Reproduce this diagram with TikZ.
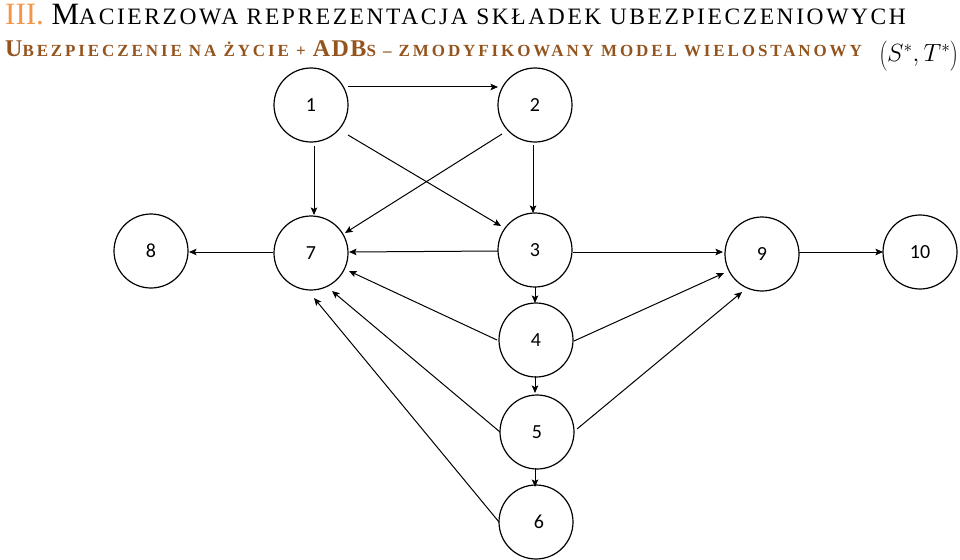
\documentclass[tikz,border=0pt]{standalone}
\usepackage{fontspec}
\setmainfont{Liberation Serif}
\newfontfamily\labfont{Carlito}
\newfontfamily\widefont[LetterSpace=11]{Liberation Serif}
\newfontfamily\widerfont[LetterSpace=17]{Liberation Serif}
\newfontfamily\midfont[LetterSpace=6]{Liberation Serif}
\usetikzlibrary{calc,arrows.meta}
\definecolor{ttlorange}{RGB}{245,150,70}
\definecolor{ttlbrown}{RGB}{148,84,30}
\begin{document}
\begin{tikzpicture}[x=1pt,y=-1pt,
  st/.style={circle,draw,line width=1.2pt,minimum size=74pt,inner sep=0pt,
    font=\labfont\fontsize{20}{20}\selectfont},
  ar/.style={-{Stealth[length=7.5pt,width=6.5pt,inset=1.5pt]},line width=1pt},
  ttl/.style={anchor=base west,inner sep=0pt}]
\useasboundingbox (0,0) rectangle (960,559);
% title
\node[ttl] (t1) at (5,25) {\color{ttlorange}\fontsize{31}{31}\selectfont III.\ \color{black}M\widefont\fontsize{23.5}{24}\selectfont ACIERZOWA REPREZENTACJA SKŁADEK UBEZPIECZENIOWYCH};
\node[ttl,text=ttlbrown] (t2) at (5,57) {\widerfont\bfseries\fontsize{24}{24}\selectfont U\fontsize{17}{17}\selectfont BEZPIECZENIE NA ŻYCIE + \midfont\bfseries\fontsize{24}{24}\selectfont ADB\widerfont\bfseries\fontsize{17}{17}\selectfont S – ZMODYFIKOWANY MODEL WIELOSTANOWY};
\node[ttl] (t3) at (879,62) {\fontsize{25}{25}\selectfont $\left(\vphantom{\rule[-6pt]{0pt}{28pt}}S^{*}{,}\,T^{*}\right)$};
% states
\node[st] (n1) at (311,105) {1};
\node[st] (n2) at (535,105) {2};
\node[st] (n7) at (311,253) {7};
\node[st] (n3) at (535,250) {3};
\node[st] (n8) at (151,251) {8};
\node[st] (n9) at (762,254) {9};
\node[st] (n10) at (920,252) {10};
\node[st] (n4) at (536,340) {4};
\node[st] (n5) at (537,432) {5};
\node[st] (n6) at (536,522) {\hspace*{6pt}6};
% transitions
\draw[ar] ($(n1)+(37,-18)$) -- ($(n2)+(-37,-18)$);
\draw[ar] ($(n1)+(3,41)$) -- ($(n7)+(3,-38)$);
\draw[ar] ($(n1)+(37,30)$) -- ($(n3)+(-34,-24)$);
\draw[ar] ($(n2)+(-33,29)$) -- ($(n7)+(34,-20)$);
\draw[ar] ($(n2)+(-2,40)$) -- ($(n3)+(-2,-37)$);
\draw[ar] ($(n3)+(-37,1)$) -- ($(n7)+(38,-1)$);
\draw[ar] ($(n7)+(-38,-1)$) -- ($(n8)+(38,1)$);
\draw[ar] ($(n3)+(38,2)$) -- ($(n9)+(-39,-2)$);
\draw[ar] ($(n9)+(37,-2)$) -- ($(n10)+(-37,0)$);
\draw[ar] ($(n3)+(0,37)$) -- ($(n4)+(-1,-37)$);
\draw[ar] ($(n4)+(-1,36)$) -- ($(n5)+(-2,-39)$);
\draw[ar] ($(n5)+(-2,36)$) -- ($(n6)+(-1,-35)$);
\draw[ar] ($(n4)+(-39,0)$) -- ($(n7)+(38,18)$);
\draw[ar] ($(n5)+(-37,0)$) -- ($(n7)+(21,38)$);
\draw[ar] ($(n6)+(-37,0)$) -- ($(n7)+(3,45)$);
\draw[ar] ($(n4)+(38,1)$) -- ($(n9)+(-38,19)$);
\draw[ar] ($(n5)+(40,-3)$) -- ($(n9)+(-20,38)$);
\end{tikzpicture}
\end{document}
